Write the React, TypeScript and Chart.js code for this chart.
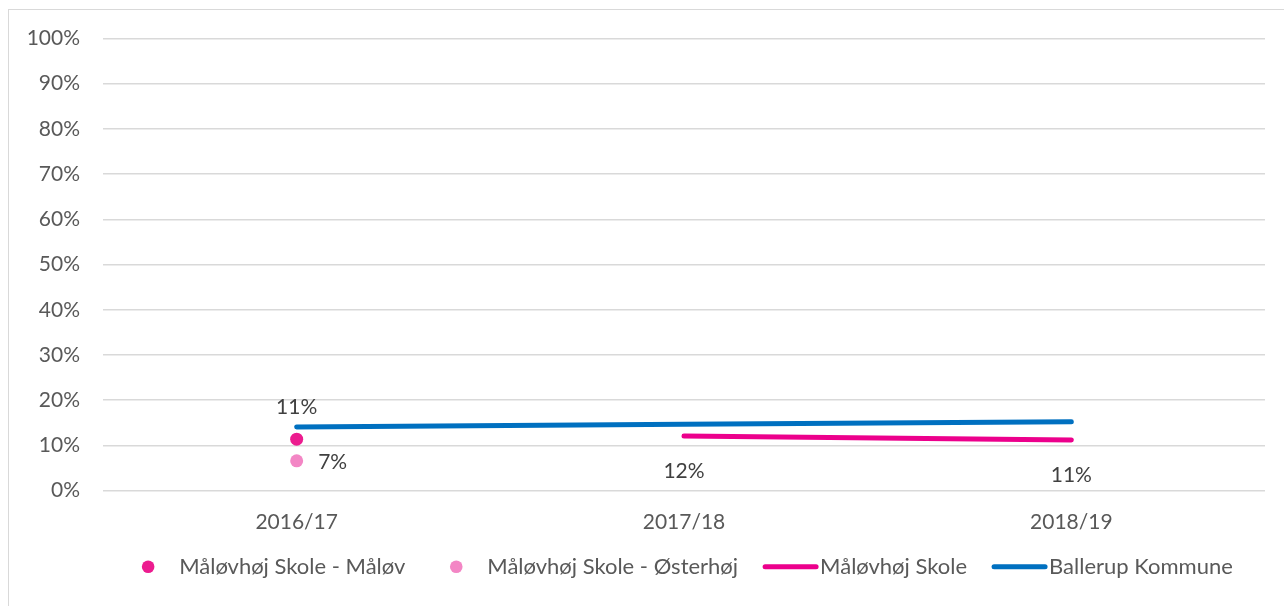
import React, { useEffect, useRef } from "react";
import { Chart, registerables } from "chart.js";

Chart.register(...registerables);

const categories = ["2016/17", "2017/18", "2018/19"];
const maloevValues = [11.4, null, null];
const oesterhoejValues = [6.6, null, null];
const skoleValues = [null, 12.1, 11.2];
const ballerupValues = [14.1, 14.7, 15.25];
const seriesNames = [
  "Måløvhøj Skole - Måløv",
  "Måløvhøj Skole - Østerhøj",
  "Måløvhøj Skole",
  "Ballerup Kommune",
];
const yTicks = [0, 10, 20, 30, 40, 50, 60, 70, 80, 90, 100];

const FONT = "Lato, 'Open Sans', sans-serif";

const dataLabelPlugin = {
  id: "customDataLabels",
  afterDatasetsDraw(chart: any) {
    const ctx = chart.ctx;
    ctx.save();
    ctx.font = `21px ${FONT}`;
    ctx.fillStyle = "#404040";
    ctx.textAlign = "center";
    ctx.textBaseline = "middle";
    chart.data.datasets.forEach((ds: any, i: number) => {
      const off = ds.labelOffset;
      if (!off) return;
      const meta = chart.getDatasetMeta(i);
      meta.data.forEach((pt: any, j: number) => {
        const v = ds.data[j];
        if (v === null || v === undefined) return;
        ctx.fillText(`${Math.round(v)}%`, pt.x + off[0], pt.y + off[1]);
      });
    });
    ctx.restore();
  },
};

const legendPlugin = {
  id: "customLegend",
  afterDraw(chart: any) {
    const ctx = chart.ctx;
    const items = chart.data.datasets.map((ds: any) => ({
      label: ds.label,
      kind: ds.showLine === false ? "point" : "line",
      color: ds.showLine === false ? ds.pointBackgroundColor : ds.borderColor,
    }));
    ctx.save();
    ctx.font = `22px ${FONT}`;
    const symW = 59;
    const gap = 23;
    const widths = items.map((it: any) => symW + ctx.measureText(it.label).width);
    const total = widths.reduce((a: number, b: number) => a + b, 0) + gap * (items.length - 1);
    const cx = (chart.chartArea.left + chart.chartArea.right) / 2 - 7.5;
    const y = 556.7;
    let x = cx - total / 2;
    items.forEach((it: any, i: number) => {
      if (it.kind === "point") {
        ctx.beginPath();
        ctx.fillStyle = it.color;
        ctx.arc(x + 28, y, 6.3, 0, Math.PI * 2);
        ctx.fill();
      } else {
        ctx.beginPath();
        ctx.strokeStyle = it.color;
        ctx.lineWidth = 5;
        ctx.lineCap = "round";
        ctx.moveTo(x + 4, y);
        ctx.lineTo(x + 55, y);
        ctx.stroke();
      }
      ctx.fillStyle = "#595959";
      ctx.textAlign = "left";
      ctx.textBaseline = "middle";
      ctx.fillText(it.label, x + symW, y);
      x += widths[i] + gap;
    });
    ctx.restore();
  },
};

export default function App() {
  const ref = useRef<HTMLCanvasElement>(null);
  useEffect(() => {
    if (!ref.current) return;
    const chart = new Chart(ref.current, {
      type: "line",
      data: {
        labels: categories,
        datasets: [
          {
            label: seriesNames[0],
            data: maloevValues,
            showLine: false,
            pointRadius: 6.5,
            pointBackgroundColor: "#EC1C8F",
            pointBorderWidth: 0,
            borderColor: "#EC1C8F",
            labelOffset: [0, -31.6],
          } as any,
          {
            label: seriesNames[1],
            data: oesterhoejValues,
            showLine: false,
            pointRadius: 6.5,
            pointBackgroundColor: "#F386C5",
            pointBorderWidth: 0,
            borderColor: "#F386C5",
            labelOffset: [36, 1.7],
          } as any,
          {
            label: seriesNames[2],
            data: skoleValues,
            borderColor: "#EC008C",
            borderWidth: 5,
            borderCapStyle: "round",
            pointRadius: 0,
            spanGaps: false,
            labelOffset: [0, 35],
          } as any,
          {
            label: seriesNames[3],
            data: ballerupValues,
            borderColor: "#0070C0",
            borderWidth: 5,
            borderCapStyle: "round",
            pointRadius: 0,
          } as any,
        ],
      },
      options: {
        animation: false,
        responsive: false,
        maintainAspectRatio: false,
        layout: { padding: { left: 0, right: 19, top: 28.3, bottom: 75.3 } },
        plugins: {
          legend: { display: false },
          tooltip: { enabled: false },
          title: { display: false },
        },
        scales: {
          x: {
            offset: true,
            grid: { display: false, drawTicks: false },
            border: { display: false },
            ticks: {
              color: "#595959",
              font: { family: FONT, size: 21 },
              padding: 19,
              maxRotation: 0,
            },
            afterFit: (s: any) => {
              s.height = 40;
              s.paddingLeft = 0;
              s.paddingRight = 0;
            },
          },
          y: {
            min: 0,
            max: 100,
            afterBuildTicks: (s: any) => {
              s.ticks = yTicks.map((v) => ({ value: v }));
            },
            grid: { color: "#D9D9D9", lineWidth: 1.5, drawTicks: false },
            border: { display: false },
            ticks: {
              color: "#595959",
              font: { family: FONT, size: 21 },
              padding: 23,
              callback: (v: any) => `${v}%`,
            },
            afterFit: (s: any) => {
              s.width = 94;
              s.paddingTop = 0;
              s.paddingBottom = 0;
            },
          },
        },
      },
      plugins: [dataLabelPlugin, legendPlugin],
    });
    return () => chart.destroy();
  }, []);
  return (
    <div
      style={{
        position: "absolute",
        left: 8,
        top: 9,
        width: 1276,
        height: 597,
        boxSizing: "border-box",
        borderLeft: "1px solid #D9D9D9",
        borderTop: "1px solid #D9D9D9",
        background: "#fff",
      }}
    >
      <canvas ref={ref} width={1275} height={596} style={{ display: "block" }} />
    </div>
  );
}
